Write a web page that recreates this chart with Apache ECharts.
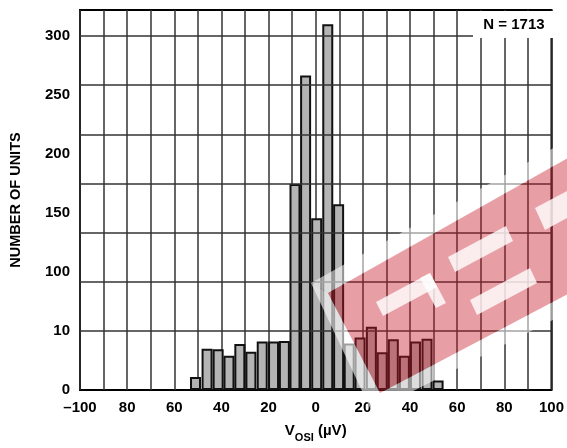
<!DOCTYPE html>
<html>
<head>
<meta charset="utf-8">
<script src="https://cdn.jsdelivr.net/npm/echarts@6/dist/echarts.min.js"></script>
<style>
html,body{margin:0;padding:0;background:#fff;}
#chart{width:567px;height:448px;}
</style>
</head>
<body>
<div id="chart"></div>
<script>
// Bin centres (µV) and counts
const binCenters = [-51.0, -46.1, -41.4, -36.8, -32.2, -27.5, -22.7, -17.9, -13.3, -8.8, -4.3, 0.4, 5.1, 9.7, 14.2, 18.8, 23.6, 28.2, 32.9, 37.6, 42.3, 47.2, 51.9];
const counts = [11, 35, 34.5, 29, 39, 32.5, 41, 41, 41.5, 174.5, 266.5, 145.5, 310, 157.5, 39.5, 44.5, 53.5, 32, 43, 29, 41, 43.5, 8];
// Tick labels as printed on the chart
const xTickValues = [-100, -80, -60, -40, -20, 0, 20, 40, 60, 80, 100];
const xTickLabels = ['\u2013100', '80', '60', '40', '20', '0', '20', '40', '60', '80', '100'];
const yTickValues = [0, 50, 100, 150, 200, 250, 300];
const yTickLabels = ['0', '10', '100', '150', '200', '250', '300'];
// Horizontal grid lines as drawn on the chart
const yGridLines = [50, 91.67, 133.33, 175, 216.67, 258.33, 300];
const annotation = 'N = 1713';

const FONT = 'Liberation Sans, Arial, Helvetica, sans-serif';
const chart = echarts.init(document.getElementById('chart'), null, {renderer: 'canvas'});

const option = {
  animation: false,
  backgroundColor: '#fff',
  grid: {left: 79, right: 11, top: 10, bottom: 57, show: true, borderColor: '#000', borderWidth: 2, backgroundColor: 'transparent'},
  xAxis: {
    type: 'value', min: -100, max: 100, interval: 10,
    axisLine: {show: false}, axisTick: {show: false},
    splitLine: {show: true, lineStyle: {color: '#333', width: 1.5}},
    axisLabel: {
      color: '#000', fontSize: 15, fontWeight: 'bold', fontFamily: FONT, margin: 10,
      formatter: function (v) { const i = xTickValues.indexOf(Math.round(v)); return (i >= 0 && Math.abs(v - Math.round(v)) < 1e-6) ? xTickLabels[i] : ''; }
    },
    name: '{a|V}{b|OSI}{a| (\u00b5V)}', nameLocation: 'middle', nameGap: 33,
    nameTextStyle: {
      color: '#000', fontFamily: FONT, fontWeight: 'bold',
      rich: {
        a: {fontSize: 15, fontWeight: 'bold', fontFamily: FONT, color: '#000', lineHeight: 20, verticalAlign: 'top'},
        b: {fontSize: 11, fontWeight: 'bold', fontFamily: FONT, color: '#000', lineHeight: 10, verticalAlign: 'bottom'}
      }
    }
  },
  yAxis: {
    type: 'value', min: 0, max: 322, interval: 50,
    axisLine: {show: false}, axisTick: {show: false}, splitLine: {show: false},
    axisLabel: {
      color: '#000', fontSize: 15, fontWeight: 'bold', fontFamily: FONT, margin: 10,
      formatter: function (v) { const i = yTickValues.indexOf(v); return i >= 0 ? yTickLabels[i] : ''; }
    },
    name: 'NUMBER OF UNITS', nameLocation: 'middle', nameGap: 57,
    nameTextStyle: {color: '#000', fontSize: 14.5, fontWeight: 'bold', fontFamily: FONT}
  },
  series: [
    {
      type: 'line', data: [], z: 1, silent: true,
      markLine: {
        silent: true, symbol: ['none', 'none'], label: {show: false},
        lineStyle: {color: '#333', width: 1.5, type: 'solid'},
        data: yGridLines.map(v => ({yAxis: v}))
      }
    },
    {
      type: 'bar', z: 2, barWidth: 11,
      itemStyle: {color: '#b4b4b4', borderColor: '#111', borderWidth: 2},
      data: binCenters.map((x, i) => [x, counts[i]])
    }
  ],
  graphic: [
    {type: 'rect', z: 100, shape: {x: 473, y: 11, width: 82, height: 27}, style: {fill: '#fff'}},
    {type: 'text', z: 101, style: {text: annotation, x: 514, y: 25, fill: '#000', font: 'bold 15px ' + FONT, textAlign: 'center', textVerticalAlign: 'middle', verticalAlign: 'middle'}},
    // watermark (decorative)
    {type: 'polygon', z: 90, shape: {points: [[311, 283], [372, 412], [380, 393], [328, 293]]}, style: {fill: 'rgba(255,255,255,0.6)'}},
    {type: 'polygon', z: 90, shape: {points: [[372, 412], [600, 296], [600, 277], [380, 393]]}, style: {fill: 'rgba(255,255,255,0.55)'}},
    {type: 'polygon', z: 90, shape: {points: [[311, 283], [328, 293], [600, 140], [600, 122]]}, style: {fill: 'rgba(255,255,255,0.55)'}},
    {type: 'polygon', z: 91, shape: {points: [[328, 293], [380, 393], [600, 277], [600, 140]]}, style: {fill: 'rgba(200,25,40,0.42)'}},
    {type: 'polygon', z: 92, shape: {points: [[376, 302], [430, 273], [437, 287], [383, 316]]}, style: {fill: 'rgba(255,255,255,0.8)'}},
    {type: 'polygon', z: 92, shape: {points: [[420, 278], [430, 273], [446, 303], [436, 308]]}, style: {fill: 'rgba(255,255,255,0.8)'}},
    {type: 'polygon', z: 92, shape: {points: [[448, 257], [506, 226], [513, 241], [455, 272]]}, style: {fill: 'rgba(255,255,255,0.8)'}},
    {type: 'polygon', z: 92, shape: {points: [[470, 300], [530, 268], [537, 283], [477, 315]]}, style: {fill: 'rgba(255,255,255,0.8)'}},
    {type: 'polygon', z: 92, shape: {points: [[535, 208], [567, 191], [567, 218], [545, 230]]}, style: {fill: 'rgba(255,255,255,0.8)'}}
  ]
};
chart.setOption(option);
</script>
</body>
</html>
